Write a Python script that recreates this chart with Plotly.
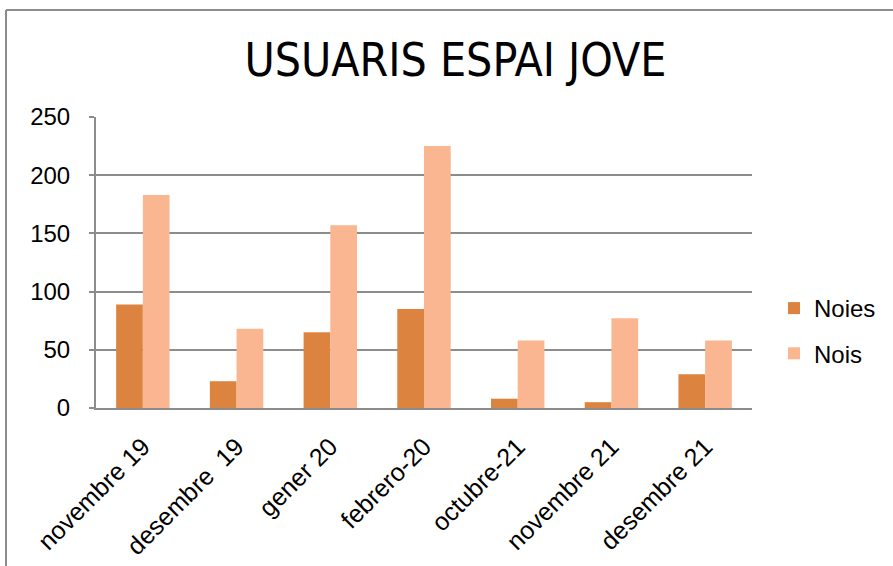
import plotly.graph_objects as go

categories = ["novembre 19", "desembre\u00a0 19", "gener 20", "febrero-20", "octubre-21", "novembre 21", "desembre 21"]
noies = [89, 23, 65, 85, 8, 5, 29]
nois = [183, 68, 157, 225, 58, 77, 58]
y_ticks = [0, 50, 100, 150, 200, 250]

fig = go.Figure()
fig.add_trace(go.Bar(name="Noies", x=categories, y=noies, legendgroup="a",
                     marker=dict(color="#DC843F", line=dict(width=0))))
fig.add_trace(go.Bar(name="Nois", x=categories, y=nois, legendgroup="b",
                     marker=dict(color="#F9B690", line=dict(width=0))))

W, H = 893, 566
L, R, T, B = 96, 141, 117, 158
pw, ph = W - L - R, H - T - B

fig.update_layout(
    width=W, height=H,
    paper_bgcolor="white", plot_bgcolor="white",
    margin=dict(l=L, r=R, t=T, b=B, autoexpand=False),
    barmode="group", bargap=0.43, bargroupgap=0,
    title=dict(text="USUARIS ESPAI JOVE", x=0.51, xanchor="center", y=1 - 60 / H, yanchor="middle",
               font=dict(family="DejaVu Sans Condensed, sans-serif", size=46, color="black")),
    font=dict(family="Liberation Sans, Arial, sans-serif", color="black"),
    legend=dict(x=1 + 22 / pw, y=(408 - 331) / ph, xanchor="left", yanchor="middle",
                font=dict(size=24, color="black"),
                tracegroupgap=11, traceorder="grouped", bgcolor="rgba(0,0,0,0)"),
    showlegend=True,
)
fig.update_yaxes(range=[0, 250], tickvals=y_ticks, showgrid=True, gridcolor="#8C8C8C", gridwidth=2,
                 showline=True, linecolor="#8C8C8C", linewidth=2, ticks="outside", ticklen=5,
                 tickcolor="#8C8C8C", tickwidth=2, tickfont=dict(size=24, color="black"), zeroline=False,
                 ticklabelstandoff=14, automargin=False)
fig.update_xaxes(showline=True, linecolor="#8C8C8C", linewidth=2, tickangle=-45,
                 tickfont=dict(size=25, color="black"), ticks="", ticklabelstandoff=12, automargin=False)
# outer chart border (partially visible)
bx = (6 - L) / pw
by = 1 + (T - 10) / ph
fig.add_shape(type="line", xref="paper", yref="paper", x0=bx, x1=bx, y0=by, y1=-B / ph,
              line=dict(color="#8C8C8C", width=2))
fig.add_shape(type="line", xref="paper", yref="paper", x0=bx, x1=1 + R / pw, y0=by, y1=by,
              line=dict(color="#8C8C8C", width=2))
fig.write_html("out.html", config={"displayModeBar": False},
               post_script="document.body.style.margin='0';")
